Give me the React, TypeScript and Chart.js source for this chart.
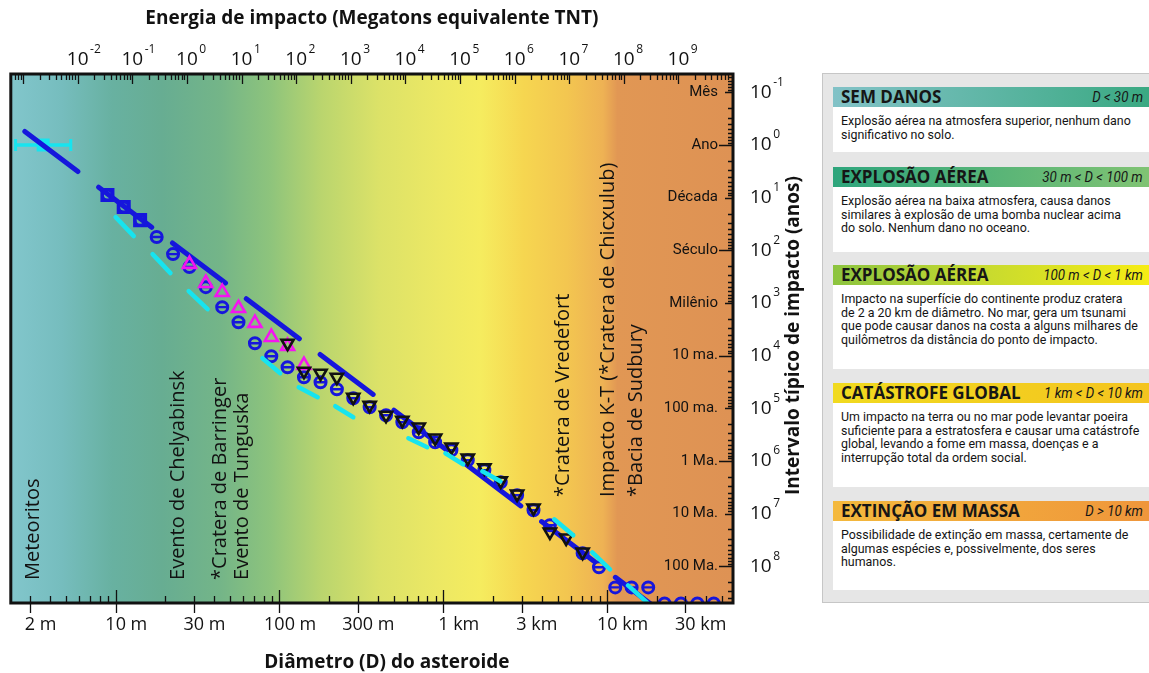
import React, { useEffect, useRef } from 'react';
import { Chart, registerables } from 'chart.js';

Chart.register(...registerables);

// ---------------- data ----------------
// Diameters in metres, typical impact intervals in years.
const SQUARE_D = [8.91, 11.2, 14.1];
const SQUARE_Y = [8.93, 15.1, 26.7];

const BLUE_D = [17.8, 22.4, 28.2, 35.5, 44.7, 56.2, 70.8, 89.1, 112, 141, 178, 224, 282, 355, 447, 562, 708, 891, 1120, 1410, 1780, 2240, 2820, 3550, 4470, 7080, 8910, 11200, 14100, 17800, 22400, 28200, 35500, 44700];
const BLUE_Y = [56, 118, 208, 501, 1200, 2320, 5810, 10300, 16600, 25800, 32100, 43500, 64600, 95700, 136000, 185000, 286000, 443000, 628000, 975000, 1.51e6, 2.55e6, 4.51e6, 8.69e6, 1.67e7, 5.71e7, 1.05e8, 2.53e8, 2.53e8, 2.53e8, 5.1e8, 5.1e8, 5.1e8, 5.1e8];

const MAGENTA_D = [28.2, 35.5, 44.7, 56.2, 70.8, 89.1, 112, 141];
const MAGENTA_Y = [183, 421, 624, 1260, 2420, 4470, 6620, 15200];

const BLACK_D = [112, 141, 178, 224, 282, 355, 447, 562, 708, 891, 1120, 1410, 1780, 2240, 2820, 3550, 4470, 5620, 7080];
const BLACK_Y = [5810, 19800, 21600, 25800, 61800, 87700, 136000, 169000, 227000, 367000, 544000, 881000, 1.36e6, 2.4e6, 4.26e6, 7.85e6, 2.24e7, 2.92e7, 5.4e7];

// cyan dashed estimate: successive dash start/end points
const CYAN_D = [10, 12.9, 16.8, 21.6, 27.9, 36.4, 78.7, 101, 131, 171, 219, 282, 612, 798, 1030, 1320, 1730, 2230, 4750, 6210, 8110, 10400, 13400, 17500];
const CYAN_Y = [23.4, 53.7, 118, 271, 597, 1310, 11200, 21600, 39900, 61800, 91600, 148000, 372000, 551000, 718000, 1.16e6, 1.58e6, 2.44e6, 1.29e7, 2.59e7, 5.47e7, 1.15e8, 2.32e8, 4.88e8];

// blue dashed power-law fit
const FIT_D = [2.79, 25100];
const FIT_Y = [0.552, 1.08e9];

// meteorite rate with horizontal error bar
const METEOR_D = [3.61];
const METEOR_Y = [1];
const METEOR_BAR_D = [2.45, 5.32];
const METEOR_BAR_Y = [1, 1];

// axes
const D_MIN = 2.291;
const D_MAX = 58600;
const YEARS_MIN = 0.0447;
const YEARS_MAX = 5.01e8;
const ENERGY_PER_M3 = 4.95e-5;

const X_TICK_VALUES = [3, 10, 30, 100, 300, 1000, 3000, 10000, 30000];
const X_TICK_LABELS = ['2 m', '10 m', '30 m', '100 m', '300 m', '1 km', '3 km', '10 km', '30 km'];
const ENERGY_EXPONENTS = [-2, -1, 0, 1, 2, 3, 4, 5, 6, 7, 8, 9];
const INTERVAL_EXPONENTS = [-1, 0, 1, 2, 3, 4, 5, 6, 7, 8];
const INTERVAL_NAMES = ['Mês', 'Ano', 'Década', 'Século', 'Milênio', '10 ma.', '100 ma.', '1 Ma.', '10 Ma.', '100 Ma.'];

const NOTE_TEXTS = ['Meteoritos', 'Evento de Chelyabinsk', '*Cratera de Barringer', 'Evento de Tunguska', '*Cratera de Vredefort', 'Impacto K-T (*Cratera de Chicxulub)', '*Bacia de Sudbury'];
const NOTE_D = [3.16, 24.0, 43.6, 59.0, 5390, 10100, 15000];
const NOTE_Y = [1.83e8, 1.83e8, 1.83e8, 1.83e8, 4.85e6, 4.85e6, 4.85e6];

const LEGEND_TITLES = ['SEM DANOS', 'EXPLOSÃO AÉREA', 'EXPLOSÃO AÉREA', 'CATÁSTROFE GLOBAL', 'EXTINÇÃO EM MASSA'];
const LEGEND_RANGES = ['D < 30 m', '30 m < D < 100 m', '100 m < D < 1 km', '1 km < D < 10 km', 'D > 10 km'];
const LEGEND_TEXTS = [
  ['Explosão aérea na atmosfera superior, nenhum dano', 'significativo no solo.'],
  ['Explosão aérea na baixa atmosfera, causa danos', 'similares à explosão de uma bomba nuclear acima', 'do solo. Nenhum dano no oceano.'],
  ['Impacto na superfície do continente produz cratera', 'de 2 a 20 km de diâmetro. No mar, gera um tsunami', 'que pode causar danos na costa a alguns milhares de', 'quilômetros da distância do ponto de impacto.'],
  ['Um impacto na terra ou no mar pode levantar poeira', 'suficiente para a estratosfera e causar uma catástrofe', 'global, levando a fome em massa, doenças e a', 'interrupção total da ordem social.'],
  ['Possibilidade de extinção em massa, certamente de', 'algumas espécies e, possivelmente, dos seres', 'humanos.'],
];

// ---------------- styles ----------------
const BLUE = '#1616dc';
const CYAN = '#17e4ef';
const MAGENTA = '#f414f0';
const BLACK = '#111111';
const INK = '#121212';

const BG_STOPS: [number, string][] = [
  [0.0, '#82c6cc'],
  [0.07, '#76bdbe'],
  [0.14, '#68b1a1'],
  [0.21, '#67ad92'],
  [0.29, '#74b588'],
  [0.36, '#8ec47c'],
  [0.43, '#bad56e'],
  [0.51, '#dce268'],
  [0.59, '#ece864'],
  [0.65, '#f5ec5f'],
  [0.71, '#f6d650'],
  [0.77, '#f3c650'],
  [0.82, '#eeb254'],
  [0.84, '#e19754'],
  [1.0, '#de9254'],
];

const LEGEND_GRADS = [
  ['#82c2c7', '#3aa982'],
  ['#2ea57c', '#80c373'],
  ['#8cc43f', '#c9db2e', '#f6ec14'],
  ['#f1da1f', '#f4c41f'],
  ['#f4b93d', '#ef963b'],
];
const LEGEND_HEAD_TOP = [13, 93, 191, 309, 427];
const LEGEND_BODY_TOP = [33, 113, 211, 329, 447];
const LEGEND_BODY_H = [45, 65, 84, 84, 69];

const pts = (D: number[], Y: number[]) => D.map((d, i) => ({ x: d, y: Y[i] }));

function logTicks(min: number, max: number) {
  const out: { v: number; m: number; e: number }[] = [];
  for (let e = Math.floor(Math.log10(min)) - 1; e <= Math.ceil(Math.log10(max)); e++) {
    for (let m = 1; m <= 9; m++) {
      const v = m * Math.pow(10, e);
      if (v >= min * 0.9999 && v <= max * 1.0001) out.push({ v, m, e });
    }
  }
  return out;
}

function drawPow(ctx: CanvasRenderingContext2D, x: number, y: number, exp: number, align: 'center' | 'left') {
  ctx.font = '400 19px "Open Sans"';
  const w = ctx.measureText('10').width;
  const x0 = align === 'center' ? x - w / 2 : x;
  ctx.textAlign = 'left';
  ctx.textBaseline = 'middle';
  ctx.fillText('10', x0, y);
  ctx.font = '400 12px "Open Sans"';
  ctx.fillText(String(exp), x0 + w + 1.5, y - 10);
}

const decorPlugin = {
  id: 'decor',
  beforeDatasetsDraw(chart: any) {
    const { ctx, chartArea: a, scales } = chart;
    ctx.save();
    const g = ctx.createLinearGradient(a.left, 0, a.right, 0);
    for (const [o, c] of BG_STOPS) g.addColorStop(o, c);
    ctx.fillStyle = g;
    ctx.fillRect(a.left, a.top, a.right - a.left, a.bottom - a.top);

    ctx.fillStyle = INK;
    ctx.font = '500 20px "Open Sans"';
    ctx.textAlign = 'left';
    ctx.textBaseline = 'middle';
    NOTE_TEXTS.forEach((t, i) => {
      const x = scales.x.getPixelForValue(NOTE_D[i]);
      const y = scales.y.getPixelForValue(NOTE_Y[i]);
      ctx.save();
      ctx.translate(x, y);
      ctx.rotate(-Math.PI / 2);
      ctx.fillText(t, 0, 0);
      ctx.restore();
    });
    ctx.restore();
  },
  afterDatasetsDraw(chart: any) {
    const { ctx, chartArea: a, scales } = chart;
    const xs = scales.x, ys = scales.y, es = scales.x2;
    ctx.save();
    // frame
    ctx.strokeStyle = BLACK;
    ctx.lineWidth = 3;
    ctx.strokeRect(a.left, a.top, a.right - a.left, a.bottom - a.top);

    ctx.lineWidth = 1.3;
    ctx.beginPath();
    // bottom ticks (diameter)
    for (const t of logTicks(D_MIN, D_MAX)) {
      const x = Math.round(xs.getPixelForValue(t.v)) + 0.5;
      if (x < a.left + 3 || x > a.right - 3) continue;
      const inside = t.m === 1 ? 13 : 7;
      const outside = t.m === 1 || t.m === 3 ? 10 : 0;
      ctx.moveTo(x, a.bottom - inside);
      ctx.lineTo(x, a.bottom + outside);
    }
    // top ticks (energy)
    for (const t of logTicks(es.min, es.max)) {
      const x = Math.round(es.getPixelForValue(t.v)) + 0.5;
      if (x < a.left + 3 || x > a.right - 3) continue;
      const inside = t.m === 1 ? 10 : 6;
      ctx.moveTo(x, a.top);
      ctx.lineTo(x, a.top + inside);
    }
    // right ticks (interval)
    for (const t of logTicks(YEARS_MIN, YEARS_MAX)) {
      const y = Math.round(ys.getPixelForValue(t.v)) + 0.5;
      if (y < a.top + 3 || y > a.bottom - 3) continue;
      const inside = t.m === 1 ? (t.e % 2 === 0 ? 14 : 8) : 5;
      ctx.moveTo(a.right - inside, y);
      ctx.lineTo(a.right, y);
    }
    ctx.stroke();

    ctx.fillStyle = INK;
    // bottom labels: number centred on tick, unit hanging right
    ctx.font = '400 18px "Open Sans"';
    ctx.textAlign = 'left';
    ctx.textBaseline = 'middle';
    X_TICK_VALUES.forEach((v, i) => {
      const lab = X_TICK_LABELS[i];
      const num = lab.split(' ')[0];
      const w = ctx.measureText(num).width;
      ctx.fillText(lab, xs.getPixelForValue(v) - w / 2, a.bottom + 22);
    });
    // top labels (energy)
    ENERGY_EXPONENTS.forEach((e) => {
      drawPow(ctx, es.getPixelForValue(Math.pow(10, e)), a.top - 14, e, 'center');
    });
    // right outer labels
    INTERVAL_EXPONENTS.forEach((e) => {
      drawPow(ctx, a.right + 17, ys.getPixelForValue(Math.pow(10, e)), e, 'left');
    });
    // right inner names
    ctx.font = '400 15px Roboto';
    ctx.textAlign = 'right';
    ctx.textBaseline = 'middle';
    INTERVAL_EXPONENTS.forEach((e, i) => {
      ctx.fillText(INTERVAL_NAMES[i], a.right - 15, ys.getPixelForValue(Math.pow(10, e)));
    });

    // titles
    ctx.font = '700 19px "Open Sans"';
    ctx.textAlign = 'center';
    ctx.fillText('Energia de impacto (Megatons equivalente TNT)', (a.left + a.right) / 2, 19);
    ctx.fillText('Diâmetro (D) do asteroide', (a.left + a.right) / 2 + 15, 663);
    ctx.save();
    ctx.translate(a.right + 61, (a.top + a.bottom) / 2 - 3);
    ctx.rotate(-Math.PI / 2);
    ctx.fillText('Intervalo típico de impacto (anos)', 0, 0);
    ctx.restore();
    ctx.restore();
  },
};

function Legend() {
  return (
    <div
      style={{
        position: 'absolute',
        left: 822,
        top: 73,
        width: 340,
        height: 530,
        boxSizing: 'border-box',
        border: '1px solid #c6c6c6',
        background: '#e6e6e6',
      }}
    >
      {LEGEND_TITLES.map((title, i) => (
        <React.Fragment key={i}>
          <div
            style={{
              position: 'absolute',
              left: 10,
              top: LEGEND_HEAD_TOP[i],
              width: 316,
              height: 20,
              boxSizing: 'border-box',
              padding: '0 6px 0 8px',
              background: `linear-gradient(to right, ${LEGEND_GRADS[i].join(', ')})`,
              display: 'flex',
              alignItems: 'center',
              justifyContent: 'space-between',
              color: '#161616',
              whiteSpace: 'nowrap',
            }}
          >
            <span style={{ font: '700 17px "Open Sans"', lineHeight: '20px' }}>{title}</span>
            <span
              style={{
                font: 'italic 400 15.5px Roboto',
                lineHeight: '20px',
                display: 'inline-block',
                transform: 'scaleX(0.86)',
                transformOrigin: 'right center',
              }}
            >
              {LEGEND_RANGES[i]}
            </span>
          </div>
          <div
            style={{
              position: 'absolute',
              left: 10,
              top: LEGEND_BODY_TOP[i],
              width: 316,
              height: LEGEND_BODY_H[i],
              boxSizing: 'border-box',
              padding: '7px 0 0 8px',
              background: '#ffffff',
              color: '#141414',
              whiteSpace: 'nowrap',
            }}
          >
            <div style={{ font: '400 13.5px Roboto', lineHeight: '13.5px', transform: 'scaleX(0.92)', transformOrigin: 'left top' }}>
              {LEGEND_TEXTS[i].map((l, j) => (
                <div key={j}>{l}</div>
              ))}
            </div>
          </div>
        </React.Fragment>
      ))}
    </div>
  );
}

export default function App() {
  const ref = useRef<HTMLCanvasElement>(null);

  useEffect(() => {
    const canvas = ref.current;
    if (!canvas) return;
    const hidden = 'rgba(0,0,0,0)';
    const chart = new Chart(canvas, {
      type: 'line',
      data: {
        datasets: [
          {
            label: 'cyan estimate',
            data: pts(CYAN_D, CYAN_Y),
            borderColor: CYAN,
            borderWidth: 4.5,
            borderCapStyle: 'round',
            pointRadius: 0,
            tension: 0,
            segment: { borderColor: (c: any) => (c.p0DataIndex % 2 === 0 ? CYAN : hidden) },
            order: 0,
            clip: 0,
          } as any,
          {
            label: 'black',
            data: pts(BLACK_D, BLACK_Y),
            showLine: false,
            pointStyle: 'triangle',
            rotation: 180,
            pointRadius: 7,
            pointBorderWidth: 2.6,
            pointBorderColor: BLACK,
            pointBackgroundColor: hidden,
            order: 1,
            clip: 0,
          } as any,
          {
            label: 'magenta',
            data: pts(MAGENTA_D, MAGENTA_Y),
            showLine: false,
            pointStyle: 'triangle',
            pointRadius: 7.5,
            pointBorderWidth: 2.6,
            pointBorderColor: MAGENTA,
            pointBackgroundColor: hidden,
            order: 2,
            clip: 0,
          } as any,
          {
            label: 'blue bars',
            data: pts(BLUE_D, BLUE_Y),
            showLine: false,
            pointStyle: 'line',
            pointRadius: 4.5,
            pointBorderWidth: 2.4,
            pointBorderColor: BLUE,
            order: 3,
            clip: 0,
          } as any,
          {
            label: 'blue',
            data: pts(BLUE_D, BLUE_Y),
            showLine: false,
            pointStyle: 'circle',
            pointRadius: 5.5,
            pointBorderWidth: 3,
            pointBorderColor: BLUE,
            pointBackgroundColor: hidden,
            order: 4,
            clip: 0,
          } as any,
          {
            label: 'blue square circles',
            data: pts(SQUARE_D, SQUARE_Y),
            showLine: false,
            pointStyle: 'circle',
            pointRadius: 5,
            pointBorderWidth: 3,
            pointBorderColor: BLUE,
            pointBackgroundColor: hidden,
            order: 5,
            clip: 0,
          } as any,
          {
            label: 'blue squares',
            data: pts(SQUARE_D, SQUARE_Y),
            showLine: false,
            pointStyle: 'rect',
            pointRadius: 7.8,
            pointBorderWidth: 3,
            pointBorderColor: BLUE,
            pointBackgroundColor: hidden,
            order: 6,
            clip: 0,
          } as any,
          {
            label: 'blue fit',
            data: pts(FIT_D, FIT_Y),
            borderColor: BLUE,
            borderWidth: 5,
            borderCapStyle: 'round',
            borderDash: [66.5, 26],
            pointRadius: 0,
            order: 7,
            clip: 0,
          } as any,
          {
            label: 'meteor',
            data: pts(METEOR_D, METEOR_Y),
            showLine: false,
            pointStyle: 'rect',
            pointRadius: 9.2,
            pointBorderWidth: 0,
            pointBackgroundColor: CYAN,
            order: 8,
            clip: 0,
          } as any,
          {
            label: 'meteor bar',
            data: pts(METEOR_BAR_D, METEOR_BAR_Y),
            borderColor: CYAN,
            borderWidth: 3.5,
            pointStyle: 'line',
            rotation: 90,
            pointRadius: 6,
            pointBorderWidth: 3,
            pointBorderColor: CYAN,
            order: 9,
            clip: 0,
          } as any,
        ],
      },
      options: {
        animation: false,
        responsive: false,
        devicePixelRatio: 1,
        events: [],
        layout: { padding: { left: 10, top: 74, right: 82, bottom: 70 } },
        plugins: { legend: { display: false }, tooltip: { enabled: false } },
        scales: {
          x: { type: 'logarithmic', min: D_MIN, max: D_MAX, display: false, bounds: 'data' },
          x2: {
            type: 'logarithmic',
            axis: 'x',
            position: 'top',
            min: ENERGY_PER_M3 * Math.pow(D_MIN, 3),
            max: ENERGY_PER_M3 * Math.pow(D_MAX, 3),
            display: false,
            bounds: 'data',
          },
          y: { type: 'logarithmic', reverse: true, min: YEARS_MIN, max: YEARS_MAX, display: false, bounds: 'data' },
        },
      } as any,
      plugins: [decorPlugin],
    });
    return () => chart.destroy();
  }, []);

  return (
    <div style={{ position: 'absolute', left: 0, top: 0, width: 1149, height: 673, overflow: 'hidden', background: '#ffffff' }}>
      <canvas ref={ref} width={815} height={673} style={{ position: 'absolute', left: 0, top: 0, width: 815, height: 673 }} />
      <Legend />
    </div>
  );
}
